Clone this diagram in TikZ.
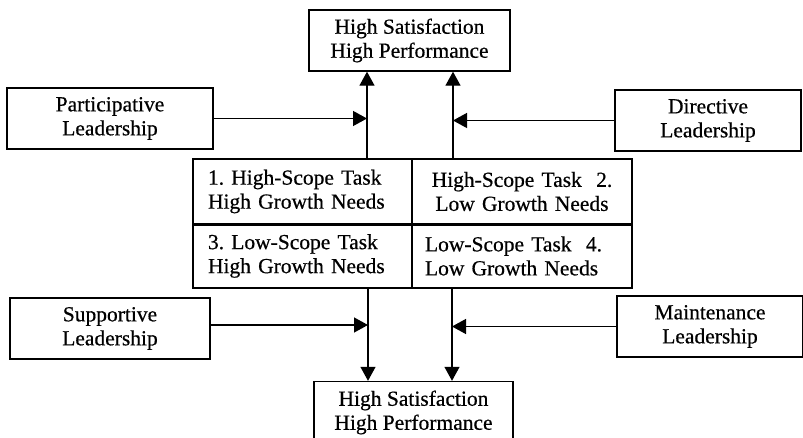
\documentclass[tikz,border=0pt]{standalone}
\usepackage{fontspec}
\setmainfont[FakeBold=0.5]{Liberation Serif}
\usetikzlibrary{arrows.meta}
\begin{document}
\frenchspacing
\begin{tikzpicture}[x=1pt,y=-1pt,
  every node/.style={font=\fontsize{21.5}{24}\selectfont, inner sep=0pt},
  box/.style={draw, line width=1.4pt, align=center},
  cell/.style={draw, line width=1.3pt, minimum height=65, text width=#1},
  link/.style={line width=1.3pt, -{Triangle[width=15pt,length=14pt]}}
]
  \path[use as bounding box, clip] (0,0) rectangle (803,438);

  % outcome boxes
  \node[box, minimum width=201, minimum height=61] (top) at (409.5,40.5)
    {High Satisfaction\\High Performance};
  \node[box, minimum width=199, minimum height=62] (bot) at (413.5,412.5)
    {High Satisfaction\\High Performance};

  % leadership styles
  \node[box, minimum width=206, minimum height=61] (part) at (110,118.5)
    {Participative\\Leadership};
  \node[box, minimum width=186, minimum height=61] (dir) at (708,120.5)
    {Directive\\Leadership};
  \node[box, minimum width=200, minimum height=61] (supp) at (110,328.5)
    {Supportive\\Leadership};
  \node[box, minimum width=186, minimum height=61] (maint) at (710,326.5)
    {Maintenance\\Leadership};

  % task / growth-need quadrants
  \node[cell=189pt, align=left, inner xsep=15pt, minimum width=219] (c1) at (302.5,191.5)
    {1. High-Scope Task\\High Growth Needs};
  \node[cell=190pt, align=center, inner xsep=15pt, minimum width=220] (c2) at (522,191.5)
    {High-Scope Task~ 2.\\Low Growth Needs};
  \node[cell=189pt, align=left, inner xsep=15pt, minimum width=219, minimum height=64] (c3) at (302.5,256)
    {3. Low-Scope Task\\High Growth Needs};
  \node[cell=194pt, align=left, inner xsep=13pt, minimum width=220, minimum height=64] (c4) at (522,256)
    {Low-Scope Task~ 4.\\Low Growth Needs};
  \draw[line width=2.6pt] (c1.south west) -- (c2.south east);

  % columns of the arrows
  \coordinate (uL) at (367,0);
  \coordinate (uR) at (453,0);
  \coordinate (dL) at (368,0);
  \coordinate (dR) at (452,0);

  % upward links to the top outcome
  \draw[link] (c1.north -| uL) -- (top.south -| uL);
  \draw[link] (c2.north -| uR) -- (top.south -| uR);
  % downward links to the bottom outcome
  \draw[link] (c3.south -| dL) -- (bot.north -| dL);
  \draw[link] (c4.south -| dR) -- (bot.north -| dR);

  % leadership inputs
  \draw[link] (part.east) -- (part.east -| uL);
  \draw[link] (dir.west) -- (dir.west -| uR);
  \draw[link] (supp.east |- 0,325) -- (dL |- 0,325);
  \draw[link] (maint.west) -- (maint.west -| dR);
\end{tikzpicture}
\end{document}
